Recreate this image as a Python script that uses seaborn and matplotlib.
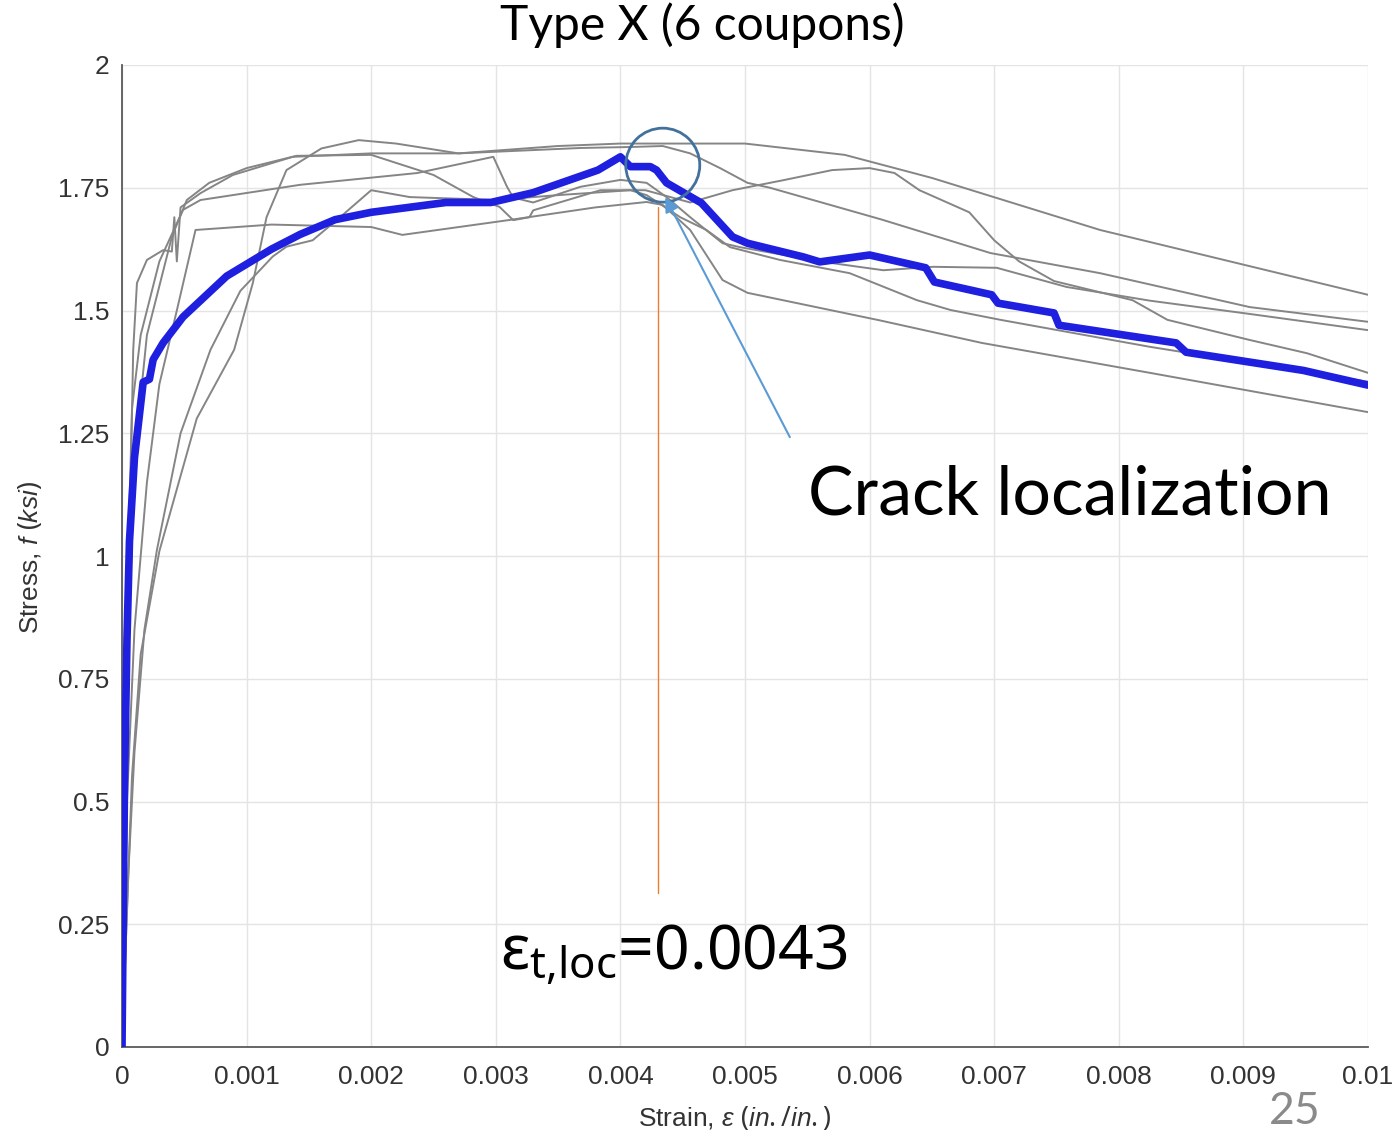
import numpy as np
import pandas as pd
import matplotlib
matplotlib.use("Agg")
import matplotlib.pyplot as plt
import seaborn as sns
from matplotlib.patches import Ellipse

# ---------------- data ----------------
c1_strain = [0, 0.00005, 0.00009, 0.00012, 0.0002, 0.00033, 0.0004, 0.00042, 0.00044, 0.00047,
             0.00063, 0.00089, 0.00137, 0.002, 0.0027, 0.0035, 0.004, 0.005, 0.0058, 0.0065,
             0.00785, 0.01]
c1_stress = [0, 0.9, 1.42, 1.556, 1.603, 1.623, 1.62, 1.69, 1.60, 1.71,
             1.739, 1.776, 1.813, 1.82, 1.82, 1.835, 1.84, 1.84, 1.817, 1.77,
             1.664, 1.532]

c2_strain = [0, 0.00008, 0.00015, 0.0003, 0.0006, 0.0009, 0.00105, 0.00116, 0.00132, 0.0016,
             0.0019, 0.0022, 0.0027, 0.00368, 0.00408, 0.00434, 0.00456, 0.0048, 0.00502,
             0.0052, 0.0061, 0.00697, 0.00785, 0.00905, 0.01]
c2_stress = [0, 0.55, 0.8, 1.01, 1.28, 1.42, 1.556, 1.69, 1.786, 1.83,
             1.847, 1.84, 1.82, 1.831, 1.833, 1.835, 1.82, 1.79, 1.76,
             1.75, 1.685, 1.617, 1.576, 1.507, 1.477]

c3_strain = [0, 0.00005, 0.0001, 0.0002, 0.0004, 0.00052, 0.0007, 0.001, 0.0014, 0.002,
             0.0025, 0.00282, 0.00303, 0.00314, 0.00327, 0.0033, 0.00384, 0.0042, 0.00456,
             0.0049, 0.0053, 0.0057, 0.006, 0.0062, 0.0064, 0.0068, 0.0070, 0.0072, 0.00748,
             0.00811, 0.00839, 0.00905, 0.00951, 0.01]
c3_stress = [0, 0.8, 1.2, 1.45, 1.65, 1.725, 1.76, 1.79, 1.815, 1.817,
             1.776, 1.731, 1.711, 1.684, 1.69, 1.704, 1.745, 1.745, 1.72,
             1.745, 1.765, 1.786, 1.79, 1.78, 1.745, 1.70, 1.643, 1.60, 1.56,
             1.521, 1.481, 1.44, 1.413, 1.373]

c4_strain = [0, 0.00003, 0.00008, 0.00015, 0.0003, 0.00049, 0.00063, 0.00143, 0.00237, 0.00298,
             0.00309, 0.00314, 0.0033, 0.00368, 0.004, 0.00421, 0.00437, 0.00456, 0.00482,
             0.00496, 0.0056, 0.00611, 0.00651, 0.00702, 0.00758, 0.00825, 0.00905, 0.01]
c4_stress = [0, 0.8, 1.3, 1.45, 1.6, 1.705, 1.725, 1.756, 1.78, 1.813,
             1.752, 1.73, 1.72, 1.752, 1.766, 1.76, 1.731, 1.69, 1.637,
             1.629, 1.60, 1.582, 1.589, 1.587, 1.548, 1.52, 1.493, 1.46]

c5_strain = [0, 0.00005, 0.0001, 0.00018, 0.00028, 0.00047, 0.00071, 0.00095, 0.00121, 0.00132,
             0.00153, 0.00175, 0.002, 0.00231, 0.003, 0.0035, 0.00408, 0.00421, 0.00448,
             0.00469, 0.00488, 0.00528, 0.00584, 0.00638, 0.00665, 0.00705, 0.00825, 0.01]
c5_stress = [0, 0.35, 0.6, 0.85, 1.012, 1.25, 1.42, 1.54, 1.61, 1.63,
             1.643, 1.69, 1.745, 1.731, 1.725, 1.735, 1.745, 1.735, 1.69,
             1.664, 1.629, 1.603, 1.576, 1.521, 1.501, 1.481, 1.426, 1.355]

c6_strain = [0, 0.00004, 0.0001, 0.0002, 0.0003, 0.00044, 0.00059, 0.0012, 0.002, 0.00225,
             0.0031, 0.0038, 0.00421, 0.00434, 0.00456, 0.00482, 0.00502, 0.00608, 0.0069,
             0.00825, 0.01]
c6_stress = [0, 0.5, 0.85, 1.15, 1.35, 1.5, 1.664, 1.675, 1.67, 1.654,
             1.684, 1.71, 1.721, 1.715, 1.664, 1.562, 1.536, 1.48, 1.434,
             1.373, 1.293]

avg_strain = [0, 0.00002, 0.00004, 0.00006, 0.0001, 0.00017, 0.00022, 0.00025, 0.00033, 0.00049,
              0.00084, 0.0012, 0.00143, 0.00171, 0.002, 0.0026, 0.00296, 0.0033, 0.00382, 0.0040,
              0.00408, 0.00424, 0.00429, 0.00437, 0.00465, 0.0049, 0.00502, 0.00547, 0.0056,
              0.0060, 0.00645, 0.00652, 0.00698, 0.00703, 0.00748, 0.00752, 0.00846, 0.00854,
              0.00948, 0.01]
avg_stress = [0, 0.54, 0.83, 1.03, 1.2, 1.354, 1.36, 1.40, 1.434, 1.487,
              1.57, 1.625, 1.655, 1.685, 1.70, 1.72, 1.72, 1.74, 1.786, 1.813,
              1.793, 1.793, 1.786, 1.760, 1.719, 1.65, 1.637, 1.609, 1.599,
              1.613, 1.587, 1.558, 1.532, 1.515, 1.495, 1.470, 1.434, 1.415,
              1.378, 1.348]

x_ticks = [0, 0.001, 0.002, 0.003, 0.004, 0.005, 0.006, 0.007, 0.008, 0.009, 0.01]
x_tick_labels = ["0", "0.001", "0.002", "0.003", "0.004", "0.005", "0.006", "0.007",
                 "0.008", "0.009", "0.01"]
y_ticks = [0, 0.25, 0.5, 0.75, 1, 1.25, 1.5, 1.75, 2]
y_tick_labels = ["0", "0.25", "0.5", "0.75", "1", "1.25", "1.5", "1.75", "2"]

eps_loc = 0.0043

# ---------------- build tables ----------------
coupons = [(c1_strain, c1_stress), (c2_strain, c2_stress), (c3_strain, c3_stress),
           (c4_strain, c4_stress), (c5_strain, c5_stress), (c6_strain, c6_stress)]
frames = []
for i, (s, f) in enumerate(coupons, start=1):
    frames.append(pd.DataFrame({"strain": s, "stress": f, "coupon": i}))
df = pd.concat(frames, ignore_index=True)
avg_df = pd.DataFrame({"strain": avg_strain, "stress": avg_stress})

# ---------------- style ----------------
sns.set_style("white")
plt.rcParams["font.family"] = ["Liberation Sans", "DejaVu Sans"]
plt.rcParams["mathtext.fontset"] = "custom"
plt.rcParams["mathtext.it"] = "Liberation Sans:italic"
plt.rcParams["mathtext.rm"] = "Noto Sans"

fig = plt.figure(figsize=(13.99, 11.38), dpi=100)
ax = fig.add_axes([122 / 1399, 1 - 1047 / 1138, (1368 - 122) / 1399, (1047 - 65) / 1138])

sns.lineplot(data=df, x="strain", y="stress", units="coupon", estimator=None, sort=False,
             color="#858585", linewidth=1.4, ax=ax, legend=False)
sns.lineplot(data=avg_df, x="strain", y="stress", sort=False, estimator=None,
             color="#1f1fe0", linewidth=5.5, ax=ax, legend=False, zorder=5)

ax.set_xlim(0, 0.01)
ax.set_ylim(0, 2)
ax.set_xticks(x_ticks)
ax.set_xticklabels(x_tick_labels)
ax.set_yticks(y_ticks)
ax.set_yticklabels(y_tick_labels)
ax.grid(True, color="#e4e4e4", linewidth=1.0)
ax.set_axisbelow(True)
for side in ["top", "right"]:
    ax.spines[side].set_visible(False)
for side in ["left", "bottom"]:
    ax.spines[side].set_color("#5a5a5a")
    ax.spines[side].set_linewidth(1.3)
ax.tick_params(axis="both", direction="in", length=6, width=1.1, color="#5a5a5a",
               labelsize=19, labelcolor="#333333")
ax.tick_params(axis="x", pad=13)
ax.tick_params(axis="y", pad=9)

ax.set_xlabel(r"Strain, $\mathit{\epsilon\ (in./in.)}$", fontsize=19, color="#333333")
ax.set_ylabel(r"Stress, $\mathit{f\ (ksi)}$", fontsize=19, color="#333333")
ax.xaxis.set_label_coords((735 - 122) / 1246, -0.058)
ax.yaxis.set_label_coords(-0.063, (1047 - 557) / 982)

# ---------------- annotations ----------------
ax.plot([eps_loc, eps_loc], [0.314, 1.71], color="#ED7D31", linewidth=1.0, zorder=6)
ell = Ellipse((0.00434, 1.796), width=0.000594, height=0.1507, fill=False,
              edgecolor="#41719C", linewidth=2.0, zorder=7, clip_on=False)
ax.add_patch(ell)
ax.annotate("", xy=(0.00436, 1.731), xytext=(0.00536, 1.242),
            arrowprops=dict(arrowstyle="-|>", color="#5B9BD5", lw=1.5, mutation_scale=22,
                            shrinkA=0, shrinkB=0), zorder=8)
ax.text(0.005506, 1.124, "Crack localization", fontsize=49, family=["Lato", "DejaVu Sans"],
        ha="left", va="center", color="black", zorder=9)
ax.text(0.003034, 0.157, r"ε$_{\mathrm{t{,}loc}}$=0.0043", fontsize=45,
        family=["Noto Sans", "DejaVu Sans"], ha="left", va="baseline", color="black", zorder=9)

fig.text(702 / 1399, 1 - 25 / 1138, "Type X (6 coupons)", fontsize=34.5,
         family=["Lato", "DejaVu Sans"], ha="center", va="center", color="black")
fig.text(1295 / 1399, 1 - 1112 / 1138, "25", fontsize=32, family=["Lato", "DejaVu Sans"],
         ha="center", va="center", color="#8a8a8a")

fig.savefig("out.png", dpi=100)
